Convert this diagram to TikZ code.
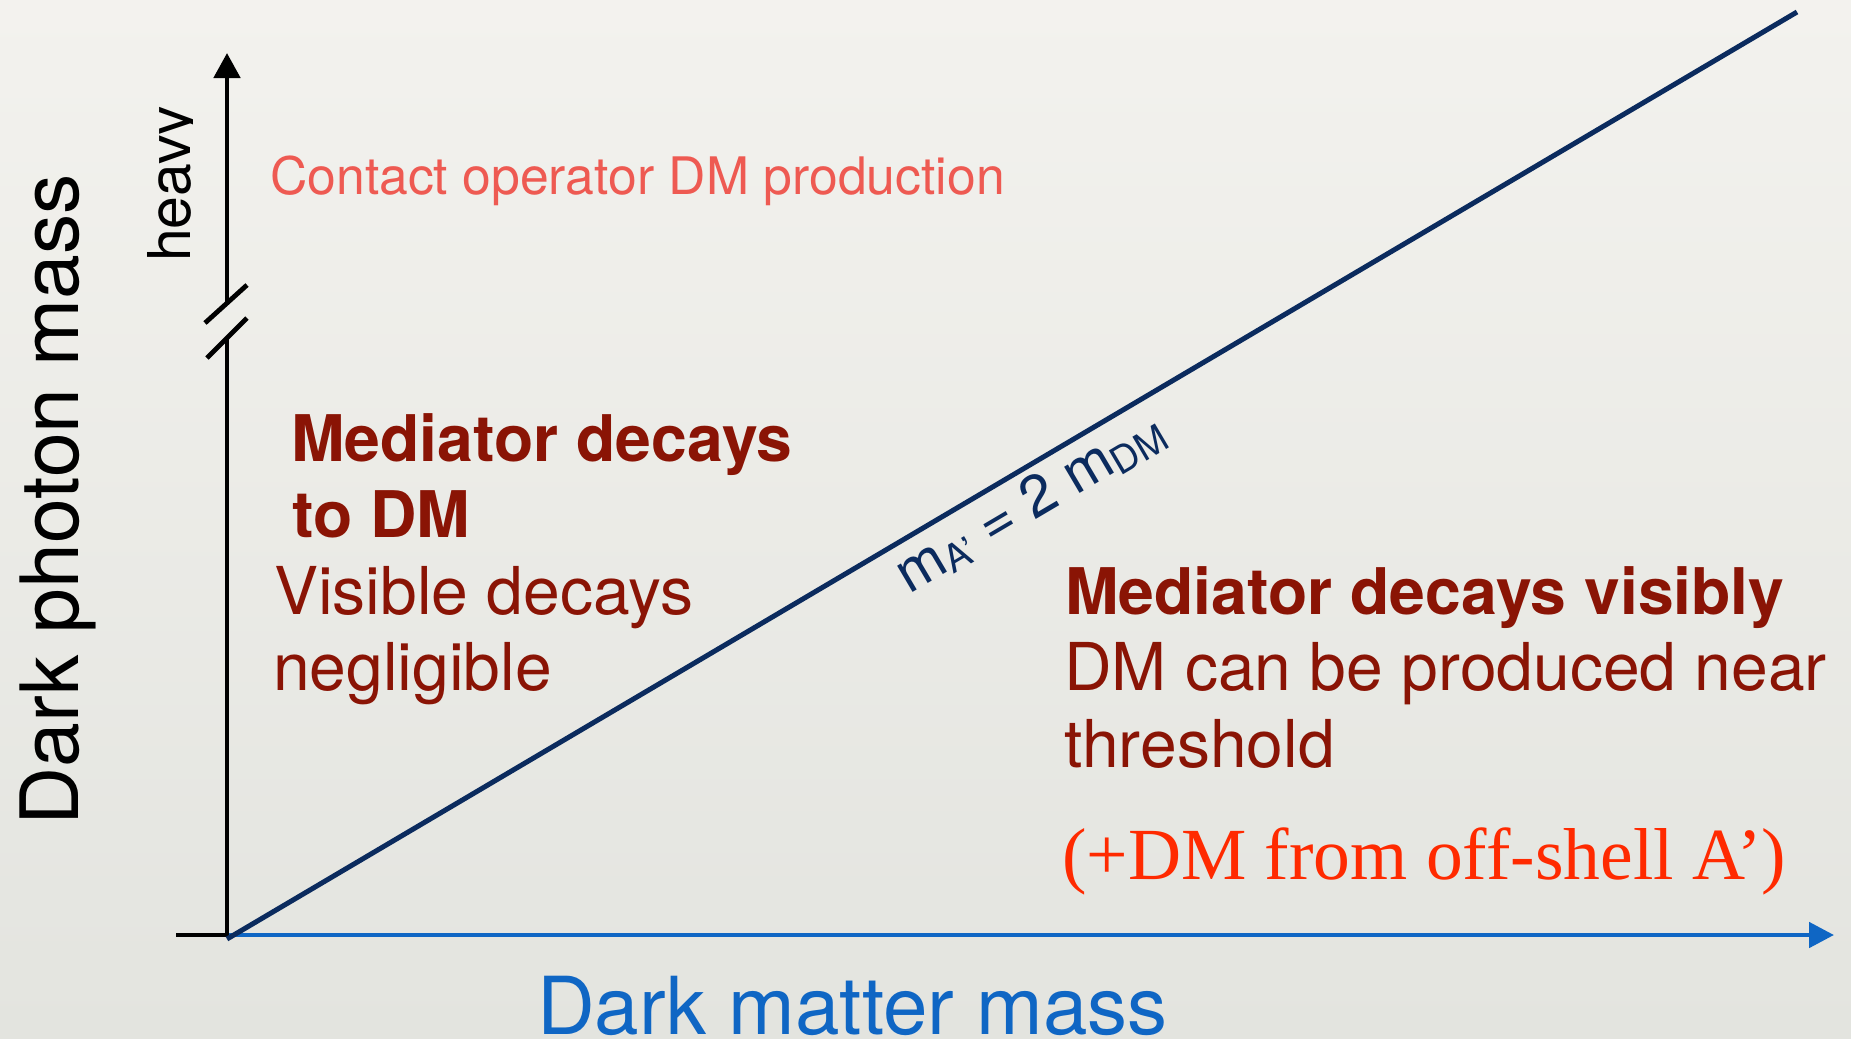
\documentclass[tikz,border=0pt]{standalone}
\usepackage{fontspec}
\setmainfont{TeX Gyre Heros}
\newfontfamily\offshellfont{Liberation Serif}
\usetikzlibrary{arrows.meta}

\definecolor{bgtop}{HTML}{F3F2EE}
\definecolor{bgbot}{HTML}{E3E4DF}
\definecolor{axisblue}{HTML}{0F66C4}
\definecolor{diagnavy}{HTML}{0B2B5E}
\definecolor{contactred}{HTML}{EE5A52}
\definecolor{regionred}{HTML}{8A1405}
\definecolor{offshellred}{HTML}{FF2A00}

\newcommand{\fsz}[1]{\fontsize{#1bp}{#1bp}\selectfont}

\begin{document}
\begin{tikzpicture}[x=1bp,y=-1bp,
  axisline/.style={line width=4.8bp},
  blackaxis/.style={axisline, black},
  blueaxis/.style={axisline, axisblue, -{Triangle[length=25bp,width=25bp]}},
  diagline/.style={line width=5bp, diagnavy},
  txt/.style={inner sep=0pt, anchor=base west},
  regionhead/.style={txt, text=regionred, font=\fsz{64.3}\bfseries},
  regionbody/.style={txt, text=regionred, font=\fsz{66}},
]
% canvas and background
\path[use as bounding box] (0,0) rectangle (1851,1038);
\shade[top color=bgtop, bottom color=bgbot] (0,0) rectangle (1851,1038);

% axis anchor points
\coordinate (O) at (227,935);
\coordinate (Ystub) at (176,935);
\coordinate (Ybrklo) at (227,338);
\coordinate (Ybrkhi) at (227,303);
\coordinate (Ytip) at (227,53);
\coordinate (Xtip) at (1834,935);
\coordinate (Dstart) at (227,939);
\coordinate (Dend) at (1797,12);
\coordinate (S1a) at (205,323);
\coordinate (S1b) at (247,285);
\coordinate (S2a) at (207,358);
\coordinate (S2b) at (247,318);

% dark matter mass axis
\draw[blueaxis] (O) -- (Xtip);

% dark photon mass axis with break
\draw[blackaxis] (Ystub) -- (O) -- (Ybrklo);
\draw[blackaxis, -{Triangle[length=25bp,width=26bp]}] (Ybrkhi) -- (Ytip);
\draw[blackaxis] (S1a) -- (S1b);
\draw[blackaxis] (S2a) -- (S2b);

% threshold line m_A' = 2 m_DM
\draw[diagline] (Dstart) -- (Dend)
  node[pos=0.501, sloped, anchor=base, yshift=-50bp, inner sep=0pt, text=diagnavy, font=\fsz{58}] (thr)
  {m\raisebox{-6bp}{\fsz{38}A\textquoteright} = 2 m\raisebox{-6bp}{\fsz{38}DM}};

% axis titles
\node[txt, rotate=90, font=\fsz{80.5}] (ylabel) at (78,826) {Dark photon mass};
\node[txt, text=axisblue, font=\fsz{80}] (xlabel) at (537,1034) {Dark matter mass};

\begin{scope}
  \clip (100,80) rectangle (192,290);
  \node[txt, rotate=90, font=\fsz{59}] (heavy) at (190,262) {heavy};
\end{scope}

% regions
\node[txt, text=contactred, font=\fsz{51.7}] (contact) at (270,194) {Contact operator DM production};

\node[regionhead] (medDM1) at (291,461) {Mediator decays};
\node[regionhead] (medDM2) at (292,537) {to DM};
\node[regionbody] (vis1) at (274,614) {Visible decays};
\node[regionbody] (vis2) at (273,690) {negligible};

\node[regionhead] (medvis) at (1065,614) {Mediator decays visibly};
\node[regionbody] (near1) at (1064,690) {DM can be produced near};
\node[regionbody] (near2) at (1064,767) {threshold};
\node[txt, text=offshellred, font=\fsz{73.5}\offshellfont] (offshell) at (1062,879) {(+DM from off-shell A\textquoteright)};
\end{tikzpicture}
\end{document}
